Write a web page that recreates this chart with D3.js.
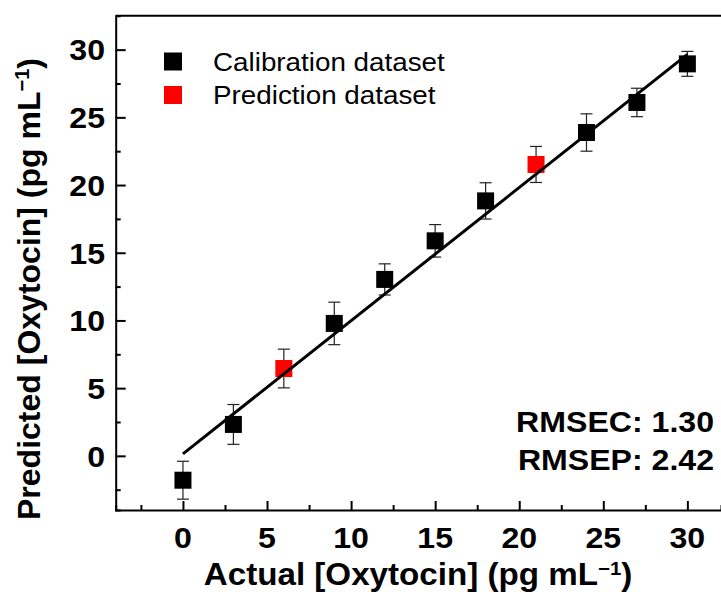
<!DOCTYPE html>
<html>
<head>
<meta charset="utf-8">
<script src="https://cdn.jsdelivr.net/npm/d3@7"></script>
<style>
  body { margin: 0; background: #fff; }
  text { font-family: "Liberation Sans", Arial, sans-serif; }
</style>
</head>
<body>
<svg id="chart"></svg>
<script>
const width = 721;
const height = 592;

// Data
const actual = [0, 3, 6, 9, 12, 15, 18, 21, 24, 27, 30];
const predicted = [-1.8, 2.32, 6.45, 9.78, 13.03, 15.88, 18.83, 21.52, 23.88, 26.1, 28.95];
const errors = [1.4, 1.47, 1.43, 1.57, 1.15, 1.2, 1.34, 1.33, 1.38, 1.05, 0.92];
const datasets = ["cal", "cal", "pred", "cal", "cal", "cal", "cal", "pred", "cal", "cal", "cal"];
const fitX = [0, 30];
const fitY = [0.15, 29.65];
const xTicks = [0, 5, 10, 15, 20, 25, 30];
const yTicks = [0, 5, 10, 15, 20, 25, 30];
const legendLabels = ["Calibration dataset", "Prediction dataset"];
const stats = ["RMSEC: 1.30", "RMSEP: 2.42"];

const colors = { cal: "#000000", pred: "#ff0000" };
const stretch = 1.07; // the original figure text is a bit wide

const svg = d3.select("#chart")
  .attr("width", width)
  .attr("height", height);

// Scales
const x = d3.scaleLinear().domain([-4, 32]).range([115.7, 721]);
const y = d3.scaleLinear().domain([-4, 32.5]).range([510, 15.8]);

const points = actual.map((a, i) => ({ x: a, y: predicted[i], e: errors[i], set: datasets[i] }));

// place horizontal text with a slight horizontal stretch
function place(sel, fx, fy) {
  return sel.attr("transform", (d, i) => `translate(${fx(d, i)},${fy(d, i)}) scale(${stretch},1)`);
}

// Top frame line
svg.append("line")
  .attr("x1", x(-4)).attr("x2", width)
  .attr("y1", y(32.5)).attr("y2", y(32.5))
  .attr("stroke", "#000").attr("stroke-width", 2);

// Axes with inward ticks
const xAxis = svg.append("g")
  .attr("transform", `translate(0,${y(-4)})`)
  .call(d3.axisBottom(x).tickValues(d3.range(-2.5, 32, 2.5)).tickSize(-5).tickFormat(""));
xAxis.selectAll(".tick line")
  .attr("y2", d => (d % 5 === 0 ? -9 : -5));
xAxis.selectAll(".tick text").remove();

const yAxis = svg.append("g")
  .attr("transform", `translate(${x(-4)},0)`)
  .call(d3.axisLeft(y).tickValues(d3.range(-2.5, 32, 2.5)).tickSize(-5).tickFormat(""));
yAxis.selectAll(".tick line")
  .attr("x2", d => (d % 5 === 0 ? 10 : 5));
yAxis.selectAll(".tick text").remove();

[xAxis, yAxis].forEach(g => {
  g.select(".domain").attr("stroke", "#000").attr("stroke-width", 2);
  g.selectAll(".tick line").attr("stroke", "#000").attr("stroke-width", 2);
});

// Tick labels
svg.append("g").selectAll("text")
  .data(xTicks)
  .enter().append("text")
  .call(place, d => x(d), () => 548)
  .attr("text-anchor", "middle")
  .attr("font-size", 30)
  .attr("font-weight", "bold")
  .text(d => d);

svg.append("g").selectAll("text")
  .data(yTicks)
  .enter().append("text")
  .call(place, () => 105, d => y(d) + 10.8)
  .attr("text-anchor", "end")
  .attr("font-size", 30)
  .attr("font-weight", "bold")
  .text(d => d);

// Axis titles
const xTitle = svg.append("text")
  .datum(0)
  .call(place, () => 418, () => 585)
  .attr("text-anchor", "middle")
  .attr("font-size", 31)
  .attr("font-weight", "bold");
xTitle.append("tspan").text("Actual [Oxytocin] (pg mL");
xTitle.append("tspan").attr("font-size", 19).attr("dy", -10).text("\u22121");
xTitle.append("tspan").attr("dy", 10).text(")");

const yTitle = svg.append("text")
  .attr("transform", `translate(40,289) rotate(-90)`)
  .attr("text-anchor", "middle")
  .attr("font-size", 32)
  .attr("font-weight", "bold");
yTitle.append("tspan").text("Predicted [Oxytocin] (pg mL");
yTitle.append("tspan").attr("font-size", 20).attr("dy", -11).text("\u22121");
yTitle.append("tspan").attr("dy", 11).text(")");

// Error bars
const err = svg.append("g").selectAll("g")
  .data(points)
  .enter().append("g")
  .attr("stroke", "#222")
  .attr("stroke-width", 1.2);
err.append("line")
  .attr("x1", d => x(d.x)).attr("x2", d => x(d.x))
  .attr("y1", d => y(d.y - d.e)).attr("y2", d => y(d.y + d.e));
err.append("line")
  .attr("x1", d => x(d.x) - 6).attr("x2", d => x(d.x) + 6)
  .attr("y1", d => y(d.y + d.e)).attr("y2", d => y(d.y + d.e));
err.append("line")
  .attr("x1", d => x(d.x) - 6).attr("x2", d => x(d.x) + 6)
  .attr("y1", d => y(d.y - d.e)).attr("y2", d => y(d.y - d.e));

// Square markers
const s = 17;
svg.append("g").selectAll("rect")
  .data(points)
  .enter().append("rect")
  .attr("x", d => x(d.x) - s / 2)
  .attr("y", d => y(d.y) - s / 2)
  .attr("width", s)
  .attr("height", s)
  .attr("fill", d => colors[d.set]);

// Fit line
svg.append("line")
  .attr("x1", x(fitX[0])).attr("y1", y(fitY[0]))
  .attr("x2", x(fitX[1])).attr("y2", y(fitY[1]))
  .attr("stroke", "#000")
  .attr("stroke-width", 3);

// Legend
const legend = svg.append("g").selectAll("g")
  .data(legendLabels)
  .enter().append("g")
  .attr("transform", (d, i) => `translate(164,${61.5 + i * 33.5})`);
legend.append("rect")
  .attr("x", 0).attr("y", -9)
  .attr("width", 18).attr("height", 18)
  .attr("fill", (d, i) => (i === 0 ? colors.cal : colors.pred));
legend.append("text")
  .call(place, () => 49, () => 9)
  .attr("font-size", 26)
  .text(d => d);

// RMSE annotation
svg.append("g").selectAll("text")
  .data(stats)
  .enter().append("text")
  .call(place, () => 714, (d, i) => 432 + i * 38)
  .attr("text-anchor", "end")
  .attr("font-size", 30)
  .attr("font-weight", "bold")
  .text(d => d);
</script>
</body>
</html>
